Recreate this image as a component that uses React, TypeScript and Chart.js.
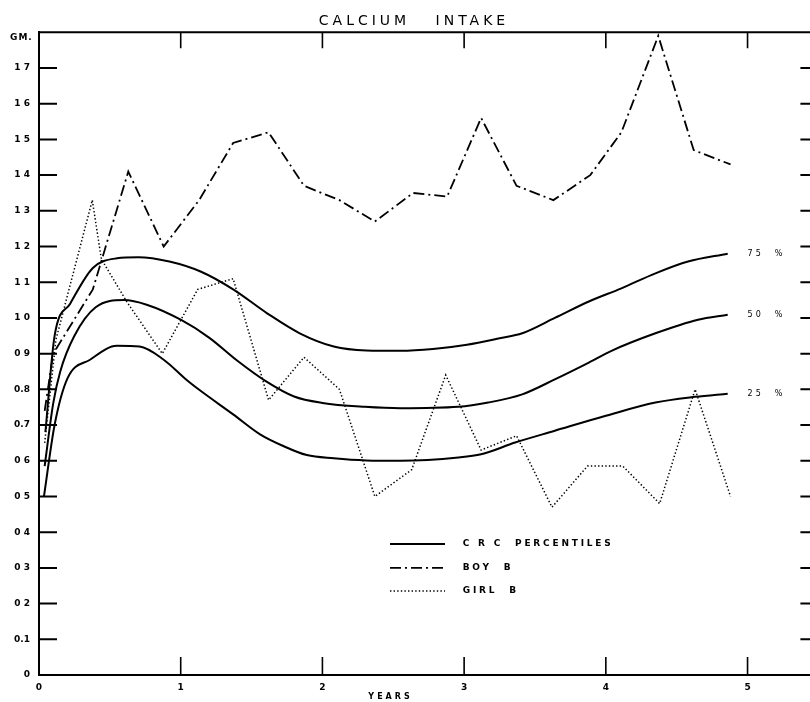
import React, { useEffect, useRef } from 'react';
import { Chart, registerables } from 'chart.js';

Chart.register(...registerables);

// ---- texts ----
const TITLE = 'CALCIUM   INTAKE';
const X_TITLE = 'YEARS';
const Y_UNIT = 'GM.';
const LEGEND_LABELS = ['C R C  PERCENTILES', 'BOY  B', 'GIRL  B'];
const PERCENT_LABELS = ['75  %', '50  %', '25  %'];
const yTickLabels = ['0', '0.1', '0 2', '0 3', '0 4', '0 5', '0 6', '0.7', '0.8', '0 9', '1 0', '1 1', '1 2', '1 3', '1 4', '1 5', '1 6', '1 7', ''];
const xTickLabels = ['0', '1', '2', '3', '4', '5'];

// ---- data (years, grams) ----
const p75Ages = [0.045, 0.11, 0.22, 0.38, 0.55, 0.7, 0.92, 1.14, 1.37, 1.61, 1.84, 2.08, 2.31, 2.55, 2.78, 3.02, 3.25, 3.41, 3.64, 3.88, 4.11, 4.35, 4.58, 4.86];
const p75Values = [0.68, 0.95, 1.04, 1.14, 1.167, 1.17, 1.158, 1.13, 1.08, 1.013, 0.957, 0.92, 0.909, 0.908, 0.913, 0.925, 0.943, 0.957, 1.0, 1.046, 1.083, 1.125, 1.158, 1.18];

const p50Ages = [0.04, 0.1, 0.15, 0.25, 0.4, 0.6, 0.76, 1.0, 1.2, 1.4, 1.6, 1.8, 2.0, 2.3, 2.55, 2.96, 3.17, 3.41, 3.64, 3.88, 4.04, 4.35, 4.65, 4.86];
const p50Values = [0.585, 0.76, 0.85, 0.95, 1.03, 1.05, 1.037, 0.995, 0.945, 0.88, 0.823, 0.78, 0.762, 0.751, 0.747, 0.751, 0.763, 0.786, 0.828, 0.875, 0.908, 0.957, 0.995, 1.009];

const p25Ages = [0.035, 0.11, 0.2, 0.36, 0.55, 0.71, 0.88, 1.04, 1.14, 1.37, 1.56, 1.72, 1.89, 2.08, 2.31, 2.55, 2.96, 3.12, 3.36, 3.64, 4.0, 4.35, 4.63, 4.86];
const p25Values = [0.5, 0.7, 0.83, 0.883, 0.922, 0.92, 0.883, 0.827, 0.796, 0.73, 0.674, 0.642, 0.616, 0.607, 0.601, 0.6, 0.609, 0.618, 0.651, 0.684, 0.726, 0.763, 0.779, 0.788];

const boyAges = [0.04, 0.1, 0.38, 0.63, 0.88, 1.13, 1.37, 1.62, 1.87, 2.12, 2.37, 2.64, 2.88, 3.12, 3.37, 3.63, 3.89, 4.11, 4.37, 4.62, 4.88];
const boyValues = [0.74, 0.9, 1.08, 1.41, 1.2, 1.33, 1.49, 1.52, 1.37, 1.33, 1.27, 1.35, 1.34, 1.56, 1.37, 1.33, 1.4, 1.52, 1.79, 1.47, 1.43];

const girlAges = [0.04, 0.12, 0.376, 0.44, 0.62, 0.87, 1.12, 1.37, 1.62, 1.87, 2.12, 2.37, 2.63, 2.87, 3.12, 3.37, 3.62, 3.87, 4.12, 4.38, 4.63, 4.88];
const girlValues = [0.65, 0.94, 1.33, 1.165, 1.045, 0.9, 1.08, 1.11, 0.77, 0.89, 0.8, 0.5, 0.575, 0.84, 0.63, 0.67, 0.47, 0.585, 0.585, 0.48, 0.8, 0.5];

const zip = (xs: number[], ys: number[]) => xs.map((x, i) => ({ x, y: ys[i] }));

const BOY_DASH = [11, 4, 2, 4];
const GIRL_DASH = [1.4, 2.2];

const decorPlugin = {
  id: 'decor',
  afterDraw(chart: any) {
    const { ctx, chartArea: a, scales } = chart;
    const xs = scales.x;
    const ys = scales.y;
    ctx.save();
    ctx.strokeStyle = '#000';
    ctx.fillStyle = '#000';
    // top & right frame
    ctx.lineWidth = 2;
    ctx.beginPath();
    ctx.moveTo(a.left - 1, a.top);
    ctx.lineTo(a.right, a.top);
    ctx.lineTo(a.right, a.bottom);
    ctx.stroke();
    // inner ticks on y
    ys.ticks.forEach((t: any, i: number) => {
      if (i === 0 || i === ys.ticks.length - 1) return;
      const py = ys.getPixelForValue(t.value);
      ctx.beginPath();
      ctx.moveTo(a.left, py);
      ctx.lineTo(a.left + 18, py);
      ctx.moveTo(a.right - 18, py);
      ctx.lineTo(a.right, py);
      ctx.stroke();
    });
    // inner ticks on x
    ctx.lineWidth = 1.6;
    for (let v = 1; v <= 5; v++) {
      const px = xs.getPixelForValue(v);
      ctx.beginPath();
      ctx.moveTo(px, a.bottom);
      ctx.lineTo(px, a.bottom - 18);
      ctx.moveTo(px, a.top);
      ctx.lineTo(px, a.top + 16);
      ctx.stroke();
    }
    // title
    ctx.textBaseline = 'middle';
    ctx.textAlign = 'center';
    ctx.font = '14px "DejaVu Sans"';
    (ctx as any).letterSpacing = '4px';
    ctx.fillText(TITLE, 414, 21);
    // unit
    ctx.textAlign = 'left';
    ctx.font = 'bold 9px "DejaVu Sans"';
    (ctx as any).letterSpacing = '1px';
    ctx.fillText(Y_UNIT, 10, 38);
    // x title
    ctx.textAlign = 'center';
    ctx.font = 'bold 8px "DejaVu Sans"';
    (ctx as any).letterSpacing = '3px';
    ctx.fillText(X_TITLE, xs.getPixelForValue(2.47) + 1.5, 697);
    // percentile labels
    ctx.textAlign = 'left';
    ctx.font = '8px "DejaVu Sans"';
    (ctx as any).letterSpacing = '3px';
    const ends = [p75Values[p75Values.length - 1], p50Values[p50Values.length - 1], p25Values[p25Values.length - 1]];
    PERCENT_LABELS.forEach((lab, i) => {
      ctx.fillText(lab, xs.getPixelForValue(5.0), ys.getPixelForValue(ends[i]));
    });
    // legend
    const ds = chart.data.datasets;
    const legendSets = [ds[0], ds[3], ds[4]];
    const lx0 = xs.getPixelForValue(2.477);
    const lx1 = xs.getPixelForValue(2.865);
    const tx = xs.getPixelForValue(2.99);
    const lyVals = [0.367, 0.3, 0.235];
    ctx.font = 'bold 9px "DejaVu Sans"';
    legendSets.forEach((d: any, i: number) => {
      const py = ys.getPixelForValue(lyVals[i]);
      ctx.save();
      ctx.lineWidth = d.borderWidth;
      ctx.setLineDash(d.borderDash || []);
      ctx.beginPath();
      ctx.moveTo(lx0, py);
      ctx.lineTo(lx1, py);
      ctx.stroke();
      ctx.restore();
      (ctx as any).letterSpacing = '2.8px';
      ctx.fillText(LEGEND_LABELS[i], tx, py);
    });
    ctx.restore();
  },
};

export default function App() {
  const ref = useRef<HTMLCanvasElement | null>(null);
  useEffect(() => {
    if (!ref.current) return;
    const chart = new Chart(ref.current, {
      type: 'line',
      data: {
        datasets: [
          { label: 'CRC 75', data: zip(p75Ages, p75Values), borderColor: '#000', borderWidth: 2, pointRadius: 0, cubicInterpolationMode: 'monotone', fill: false },
          { label: 'CRC 50', data: zip(p50Ages, p50Values), borderColor: '#000', borderWidth: 2, pointRadius: 0, cubicInterpolationMode: 'monotone', fill: false },
          { label: 'CRC 25', data: zip(p25Ages, p25Values), borderColor: '#000', borderWidth: 2, pointRadius: 0, cubicInterpolationMode: 'monotone', fill: false },
          { label: 'BOY B', data: zip(boyAges, boyValues), borderColor: '#000', borderWidth: 1.8, borderDash: BOY_DASH, pointRadius: 0, tension: 0, fill: false },
          { label: 'GIRL B', data: zip(girlAges, girlValues), borderColor: '#000', borderWidth: 1.5, borderDash: GIRL_DASH, pointRadius: 0, tension: 0, fill: false },
        ] as any,
      },
      options: {
        animation: false,
        responsive: false,
        maintainAspectRatio: false,
        layout: { padding: { left: 0, right: 11.6, top: 32.3, bottom: 0 } },
        plugins: { legend: { display: false }, title: { display: false }, tooltip: { enabled: false } },
        scales: {
          x: {
            type: 'linear',
            min: 0,
            max: 5.5,
            grid: { display: false, drawTicks: false },
            border: { display: true, color: '#000', width: 2 },
            ticks: {
              stepSize: 1,
              padding: 7,
              color: '#000',
              font: { family: 'DejaVu Sans', size: 9, weight: 'bold' },
              maxRotation: 0,
              autoSkip: false,
              callback: (v: any) => (Number.isInteger(v) && v <= 5 ? xTickLabels[v] : ''),
            },
            afterFit: (s: any) => { s.height = 27; },
          },
          y: {
            type: 'linear',
            min: 0,
            max: 1.8,
            grid: { display: false, drawTicks: false },
            border: { display: true, color: '#000', width: 2 },
            ticks: {
              stepSize: 0.1,
              padding: 9,
              color: '#000',
              autoSkip: false,
              font: { family: 'DejaVu Sans', size: 9, weight: 'bold' },
              callback: (_v: any, i: number) => yTickLabels[i] ?? '',
            },
            afterFit: (s: any) => { s.width = 39; },
          },
        },
      } as any,
      plugins: [decorPlugin],
    });
    return () => chart.destroy();
  }, []);
  return (
    <div style={{ position: 'fixed', left: 0, top: 0, width: 810, height: 702, overflow: 'hidden', background: '#fff' }}>
      <canvas ref={ref} width={830} height={702} style={{ display: 'block' }} />
    </div>
  );
}
